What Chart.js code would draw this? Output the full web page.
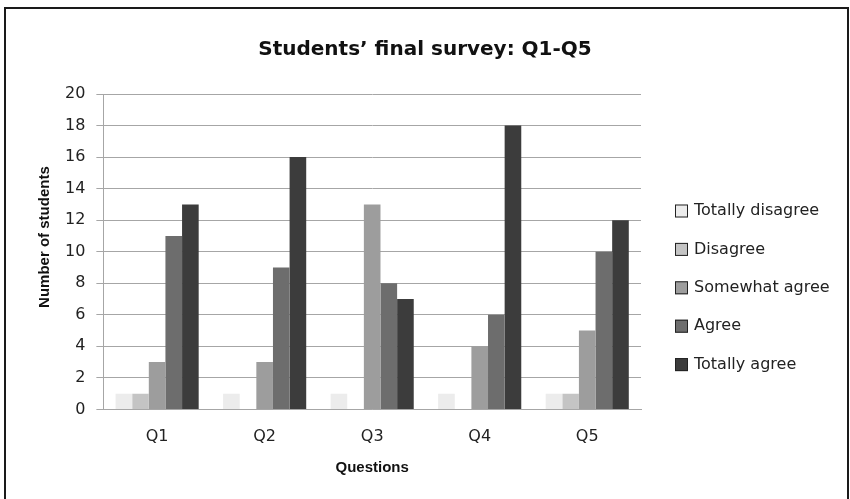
<!DOCTYPE html>
<html>
<head>
<meta charset="utf-8">
<script src="https://cdn.jsdelivr.net/npm/chart.js@4"></script>
<style>
  body { margin: 0; background: #fff; }
  #frame {
    position: absolute;
    left: 4px;
    top: 7px;
    width: 841px;
    height: 500px;
    border: 2px solid #1a1a1a;
  }
  #survey-chart { position: absolute; left: 0; top: 0; }
</style>
</head>
<body>
<div id="frame"></div>
<canvas id="survey-chart" width="850" height="499"></canvas>
<script>
"use strict";

// data -----------------------------------
const questions = ["Q1", "Q2", "Q3", "Q4", "Q5"];
const answerLabels = [
  "Totally disagree",
  "Disagree",
  "Somewhat agree",
  "Agree",
  "Totally agree",
];
const totallyDisagree = [1, 1, 1, 1, 1];
const disagree = [1, 0, 0, 0, 1];
const somewhatAgree = [3, 3, 13, 4, 5];
const agree = [11, 9, 8, 6, 10];
const totallyAgree = [13, 16, 7, 18, 12];
const yTicks = [0, 2, 4, 6, 8, 10, 12, 14, 16, 18, 20];

const barColors = ["#ececec", "#c4c4c4", "#9d9d9d", "#6d6d6d", "#3c3c3c"];
const FONT = "'DejaVu Sans', sans-serif";
const AXIS_TITLE_FONT = "'Liberation Sans', Arial, sans-serif";

// 凡例（右側・縦並び）
const sideLegend = {
  id: "sideLegend",
  afterDraw(chart) {
    const ctx = chart.ctx;
    const x = chart.chartArea.right + 34;
    ctx.save();
    ctx.font = "16px " + FONT;
    ctx.textBaseline = "middle";
    ctx.textAlign = "left";
    chart.data.datasets.forEach(function (ds, i) {
      const y = 211 + i * 38.4;
      ctx.fillStyle = ds.backgroundColor;
      ctx.fillRect(x, y - 6.5, 13, 13);
      ctx.strokeStyle = "#222";
      ctx.lineWidth = 1;
      ctx.strokeRect(x + 0.5, y - 6, 12, 12);
      ctx.fillStyle = "#222";
      ctx.fillText(ds.label, x + 19, y);
    });
    ctx.restore();
  },
};

const seriesValues = [
  totallyDisagree,
  disagree,
  somewhatAgree,
  agree,
  totallyAgree,
];

new Chart(document.getElementById("survey-chart"), {
  type: "bar",
  data: {
    labels: questions,
    datasets: seriesValues.map(function (values, i) {
      return {
        label: answerLabels[i],
        data: values,
        backgroundColor: barColors[i],
        borderWidth: 0,
        categoryPercentage: 0.773,
        barPercentage: 1.0,
      };
    }),
  },
  options: {
    responsive: false,
    animation: false,
    devicePixelRatio: 1,
    layout: {
      padding: 0,
    },
    scales: {
      x: {
        grid: {
          display: false,
          drawTicks: true,
          tickLength: 18,
        },
        border: {
          display: true,
          color: "#a6a6a6",
          width: 1,
        },
        ticks: {
          padding: 0,
          color: "#222",
          font: { family: FONT, size: 16 },
        },
        title: {
          display: true,
          text: "Questions",
          color: "#111",
          font: { family: AXIS_TITLE_FONT, size: 15, weight: "bold" },
          padding: { top: 12.4, bottom: 22 },
        },
      },
      y: {
        min: 0,
        max: 20,
        afterBuildTicks: function (axis) {
          axis.ticks = yTicks.map(function (v) {
            return { value: v };
          });
        },
        grid: {
          color: "#a6a6a6",
          lineWidth: 1,
          drawTicks: true,
          tickLength: 7,
        },
        border: {
          display: true,
          color: "#a6a6a6",
          width: 1,
        },
        ticks: {
          padding: 11,
          color: "#222",
          font: { family: FONT, size: 16 },
        },
        title: {
          display: true,
          text: "       Number of students",
          color: "#111",
          font: { family: AXIS_TITLE_FONT, size: 15, weight: "bold" },
          padding: { top: 36, bottom: 0 },
        },
      },
      // 凡例スペース用の空の軸
      legendSpace: {
        position: "right",
        grid: { display: false },
        border: { display: false },
        ticks: { display: false },
        afterFit: function (axis) {
          axis.width = 209;
        },
      },
    },
    plugins: {
      legend: { display: false },
      tooltip: { enabled: false },
      title: {
        display: true,
        text: "Students\u2019 final survey: Q1-Q5",
        color: "#111",
        font: { family: FONT, size: 20, weight: "bold" },
        padding: { top: 38, bottom: 32 },
      },
    },
  },
  plugins: [sideLegend],
});
</script>
</body>
</html>
